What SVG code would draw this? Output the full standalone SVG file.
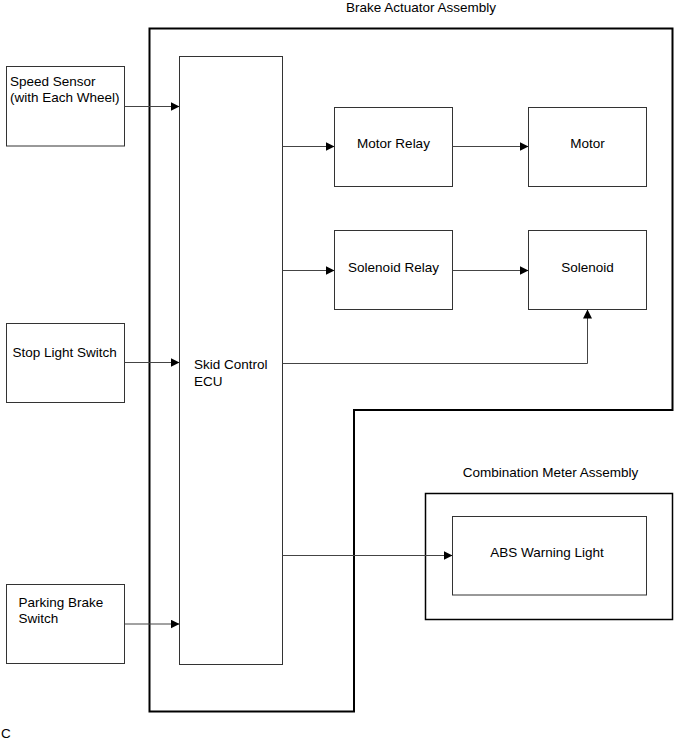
<svg xmlns="http://www.w3.org/2000/svg" width="674" height="742" viewBox="0 0 674 742">
<defs>
<marker id="ah" markerWidth="10" markerHeight="10" refX="9" refY="4.5" orient="auto" markerUnits="userSpaceOnUse">
<path d="M0,0 L9,4.5 L0,9 Z" fill="#000"/>
</marker>
</defs>
<style>
text{font-family:"Liberation Sans",Arial,sans-serif;font-size:13.5px;fill:#000}
.box{fill:#fff;stroke:#333;stroke-width:1}
.asm{fill:none;stroke:#000;stroke-width:2}
.c{fill:none;stroke:#444;stroke-width:1;marker-end:url(#ah)}
.m{text-anchor:middle}
</style>
<rect width="674" height="742" fill="#fff"/>
<g id="brake-actuator">
<path class="asm" d="M149.5,28.5 H672.5 V410 H354 V711.5 H149.5 Z"/>
<text class="m" x="421" y="12">Brake Actuator Assembly</text>
</g>
<g id="combination-meter">
<rect x="425.5" y="493.5" width="247" height="126" fill="none" stroke="#000" stroke-width="1.5"/>
<text class="m" x="550.5" y="477">Combination Meter Assembly</text>
</g>
<g id="speed-sensor">
<rect class="box" x="6.5" y="66.5" width="118" height="79.5"/>
<text x="10" y="86">Speed Sensor</text>
<text x="10" y="102">(with Each Wheel)</text>
</g>
<g id="stop-light-switch">
<rect class="box" x="6.5" y="323.5" width="118" height="79"/>
<text x="12.5" y="357">Stop Light Switch</text>
</g>
<g id="parking-brake-switch">
<rect class="box" x="6.5" y="584.5" width="118" height="79"/>
<text x="18.5" y="607">Parking Brake</text>
<text x="18.5" y="623">Switch</text>
</g>
<g id="skid-control-ecu">
<rect class="box" x="179.5" y="56.5" width="103" height="608"/>
<text x="194" y="369">Skid Control</text>
<text x="194" y="385.5">ECU</text>
</g>
<g id="motor-relay">
<rect class="box" x="334.5" y="107.5" width="118" height="79"/>
<text class="m" x="393.5" y="148">Motor Relay</text>
</g>
<g id="motor">
<rect class="box" x="528.5" y="107.5" width="118" height="79"/>
<text class="m" x="587.5" y="148">Motor</text>
</g>
<g id="solenoid-relay">
<rect class="box" x="334.5" y="230.5" width="118" height="79"/>
<text class="m" x="393.5" y="272">Solenoid Relay</text>
</g>
<g id="solenoid">
<rect class="box" x="528.5" y="230.5" width="118" height="79"/>
<text class="m" x="587.5" y="272">Solenoid</text>
</g>
<g id="abs-warning-light">
<rect class="box" x="452.5" y="516.5" width="194" height="78.5"/>
<text class="m" x="547" y="557">ABS Warning Light</text>
</g>
<g id="connectors">
<path class="c" d="M124.5,106.5 H179.5"/>
<path class="c" d="M124.5,362.5 H179.5"/>
<path class="c" d="M124.5,624 H179.5"/>
<path class="c" d="M282.5,146.5 H334.5"/>
<path class="c" d="M452.5,146.5 H528.5"/>
<path class="c" d="M282.5,270.5 H334.5"/>
<path class="c" d="M452.5,270.5 H528.5"/>
<path class="c" d="M282.5,363.5 H587.5 V309.5"/>
<path class="c" d="M282.5,555.5 H452.5"/>
</g>
<text x="1" y="738">C</text>
</svg>
